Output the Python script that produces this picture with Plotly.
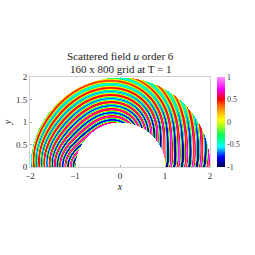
import numpy as np
import plotly.graph_objects as go

title_lines = ["Scattered field <i>u</i> order 6", "160 x 800 grid at T = 1"]
x_ticks = [-2, -1, 0, 1, 2]
y_ticks = [0, 0.5, 1, 1.5, 2]
y_labels = ["0", "0.5", "1", "1.5", "2"]
cbar_ticks = [-1, -0.5, 0, 0.5, 1]
cbar_labels = ["-1", "-0.5", "0", "0.5", "1"]

# Stripe count (wave cycles) read along rays, at the inner and outer circle.
ray_theta = [0, 15, 30, 45, 61, 77, 90, 105, 120, 135, 150, 165, 180]
cycles_inner = [0, -0.4, -1.0, -2.3, -3.7, -5.3, -6.2, -6.3, -6.4, -6.5, -7.0, -7.7, -8.3]
cycles_outer = [6.0, 5.3, 4.5, 3.3, 2.0, 0.7, 0.1, 0.0, -0.1, -0.2, -0.1, 0.1, 0.3]
trough_cycle = 0.12

# Wave amplitude read by angle (degrees), at the inner and outer radius.
amp_theta = [0, 15, 30, 45, 70, 90, 120, 150, 180]
amp_inner = [0.95, 1.0, 1.0, 0.95, 0.85, 0.8, 0.85, 0.9, 0.95]
amp_outer = [0.95, 0.85, 0.6, 0.48, 0.46, 0.46, 0.5, 0.55, 0.6]
wave_offset = -0.05

colorscale = [
    [0.00, "#00004d"], [0.05, "#0000a0"], [0.11, "#0000ff"], [0.17, "#0080ff"],
    [0.225, "#00ffff"], [0.29, "#00ffa0"], [0.35, "#00ff60"], [0.44, "#90ff20"],
    [0.525, "#ffff00"], [0.63, "#ffa000"], [0.70, "#ff5000"], [0.75, "#ff0000"],
    [0.81, "#ff0080"], [0.865, "#ff00ff"], [1.00, "#ff90ff"],
]

nx, ny = 181, 91
xs = np.linspace(-2, 2, nx)
ys = np.linspace(0, 2, ny)
X, Y = np.meshgrid(xs, ys)
R = np.hypot(X, Y)
T = np.degrees(np.arctan2(Y, X))
U = T / 90 - 1

# Smooth curves through the read rays, so stripes do not kink between them.
ray_u = np.array(ray_theta) / 90 - 1
s_in = np.polyval(np.polyfit(ray_u, cycles_inner, 6), U)
s_out = np.polyval(np.polyfit(ray_u, cycles_outer, 6), U)
S = s_in + (s_out - s_in) * (R - 1)
a_in = np.interp(T, amp_theta, amp_inner)
a_out = np.interp(T, amp_theta, amp_outer)
A = a_in + (a_out - a_in) * (R - 1)
Z = wave_offset - A * np.cos(2 * np.pi * (S - trough_cycle))
Z[(R < 1) | (R > 2)] = np.nan

fig = go.Figure(go.Heatmap(
    x=xs, y=ys, z=Z, zmin=-1, zmax=1, colorscale=colorscale, hoverinfo="skip",
    colorbar=dict(
        thickness=8, len=1, lenmode="fraction", x=1.04, xanchor="left", xpad=0, ypad=0,
        y=0.5, yanchor="middle", tickvals=cbar_ticks, ticktext=cbar_labels,
        ticks="", outlinewidth=0,
        tickfont=dict(size=8, color="#333333", family="Liberation Serif"),
    ),
))
axis = dict(showgrid=False, zeroline=False, showline=True, mirror=True, linecolor="#d0d0d0",
            linewidth=1, ticks="inside", ticklen=2, tickcolor="#aaaaaa", automargin=False,
            tickfont=dict(size=9, color="#333333", family="Liberation Serif"))
fig.update_layout(
    width=255, height=255, margin=dict(l=30, r=45, t=77, b=88, autoexpand=False),
    paper_bgcolor="white", plot_bgcolor="white",
    font=dict(family="Liberation Serif", color="#222222"),
    annotations=[
        dict(text=title_lines[0], xref="paper", yref="paper", x=0.5, y=1.233, showarrow=False,
             xanchor="center", yanchor="middle", font=dict(size=11, color="#222222")),
        dict(text=title_lines[1], xref="paper", yref="paper", x=0.5, y=1.089, showarrow=False,
             xanchor="center", yanchor="middle", font=dict(size=11, color="#222222")),
    ],
    xaxis=dict(axis, range=[-2, 2], tickvals=x_ticks,
               title=dict(text="<i>x</i>", standoff=2, font=dict(size=10))),
    yaxis=dict(axis, range=[0, 2], tickvals=y_ticks, ticktext=y_labels,
               title=dict(text="<i>y</i>", standoff=2, font=dict(size=10))),
)
fig.write_html("out.html", config=dict(displayModeBar=False),
               post_script="document.body.style.margin='0';")
